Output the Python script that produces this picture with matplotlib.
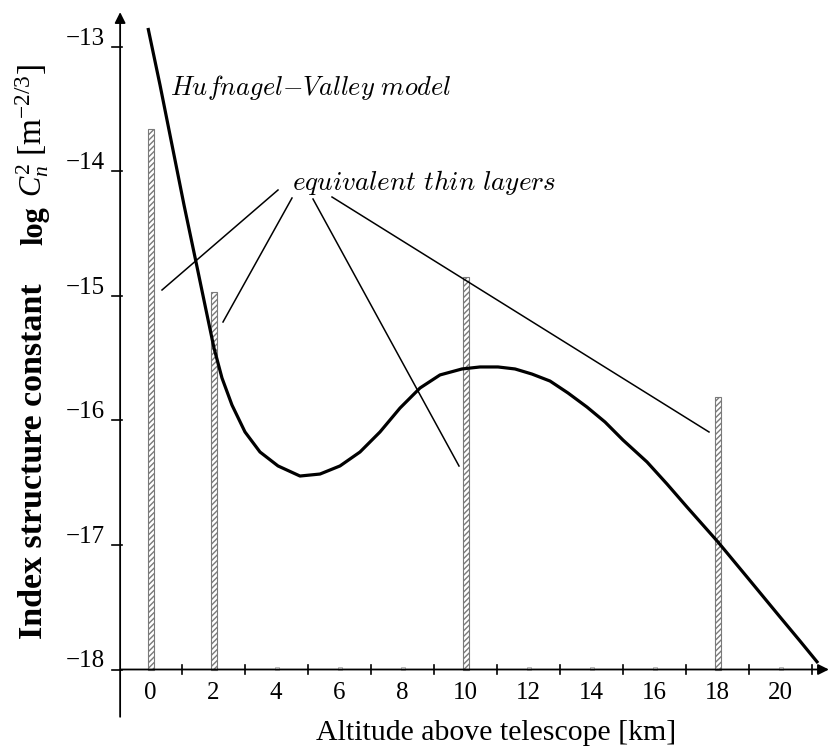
import matplotlib
matplotlib.use("Agg")
import matplotlib.pyplot as plt
import numpy as np

plt.rcParams['font.family'] = ['Liberation Serif', 'DejaVu Serif']
plt.rcParams['mathtext.fontset'] = 'custom'
plt.rcParams['mathtext.rm'] = 'Liberation Serif'
plt.rcParams['mathtext.it'] = 'Liberation Serif:italic'
plt.rcParams['mathtext.bf'] = 'Liberation Serif:bold'

# ---- data ----
hv_alt = [-0.095, 0.286, 0.667, 1.048, 1.429, 1.746, 2.0, 2.254, 2.571, 2.984,
          3.460, 4.032, 4.730, 5.365, 6.0, 6.635, 7.270, 7.905, 8.540, 9.175,
          9.873, 10.444, 11.016, 11.556, 12.095, 12.667, 13.238, 13.841, 14.413,
          14.984, 15.746, 16.381, 17.016, 18.0, 18.921, 19.968, 20.603, 21.175]
hv_logcn2 = [-12.847, -13.305, -13.787, -14.269, -14.727, -15.112, -15.418, -15.659,
             -15.876, -16.092, -16.253, -16.365, -16.446, -16.430, -16.365, -16.253,
             -16.092, -15.900, -15.739, -15.634, -15.586, -15.570, -15.570, -15.586,
             -15.627, -15.683, -15.779, -15.892, -16.012, -16.157, -16.333, -16.510,
             -16.695, -16.976, -17.257, -17.578, -17.771, -17.948]
layer_alt = [0, 2, 10, 18]
layer_logcn2 = [-13.66, -14.97, -14.85, -15.81]
faint_alt = [4, 6, 8, 12, 14, 16, 20]
faint_logcn2 = [-17.98, -17.98, -17.98, -17.98, -17.98, -17.98, -17.98]
xtick_labels = [0, 2, 4, 6, 8, 10, 12, 14, 16, 18, 20]
xtick_marks = [1, 3, 5, 7, 9, 11, 13, 15, 17, 19, 21]
ytick_labels = [-13, -14, -15, -16, -17, -18]
base = -18

# pixel -> data helpers (figure is mapped 1:1 onto the axes)
X0, SX = 151.0, 31.5
Y0, SY = 47.0, 124.5
def px(p):
    return ((p[0] - X0) / SX, -13 - (p[1] - Y0) / SY)

fig = plt.figure(figsize=(8.29, 7.48), dpi=100)
ax = fig.add_axes([0, 0, 1, 1])
ax.set_xlim(-X0 / SX, (829 - X0) / SX)
ax.set_ylim(-13 - (748 - Y0) / SY, -13 + Y0 / SY)
ax.axis('off')

# layers (hatched thin bars)
ax.bar(layer_alt, np.array(layer_logcn2) - base, bottom=base, width=0.19,
       facecolor='white', edgecolor='#7a7a7a', hatch='//////', lw=0.8, zorder=2)
ax.bar(faint_alt, np.array(faint_logcn2) - base, bottom=base, width=0.12,
       facecolor='white', edgecolor='#b0b0b0', lw=0.6, zorder=2)

# model curve
ax.plot(hv_alt, hv_logcn2, color='black', lw=2.3, zorder=4,
        solid_joinstyle='round', solid_capstyle='butt')

# axes
ax.annotate('', xy=(-0.98, -12.72), xytext=(-0.98, -18.38),
            arrowprops=dict(arrowstyle='-|>', lw=1.3, color='black',
                            mutation_scale=16, shrinkA=0, shrinkB=0))
ax.annotate('', xy=(21.52, base), xytext=(-0.98, base),
            arrowprops=dict(arrowstyle='-|>', lw=1.3, color='black',
                            mutation_scale=16, shrinkA=0, shrinkB=0))
for y in ytick_labels:
    ax.plot([-1.25, -0.92], [y, y], color='black', lw=1.2)
    ax.text(-1.45, y + 0.065, '\u2212%d' % abs(y), ha='right', va='center', fontsize=18)
for x in xtick_marks:
    ax.plot([x, x], [base - 0.035, base + 0.035], color='black', lw=1.2)
for x in xtick_labels:
    ax.text(x - 0.03, base - 0.19, str(x), ha='center', va='center', fontsize=18)

# x label
xl = px((496, 733))
ax.text(xl[0], xl[1], 'Altitude above telescope [km]', ha='center', va='center',
        fontsize=21.5)

# y label pieces
ylab = [('Index structure constant', 461, 24.5, dict(fontweight='bold')),
        ('log', 226, 22, dict(fontweight='bold')),
        (r'$C_n^2$', 180, 22, {}),
        (r'[m$^{-2/3}$]', 110, 24, {})]
for s, ycen, fs, kw in ylab:
    p = px((42, ycen))
    ax.text(p[0], p[1], s, rotation=90, rotation_mode='anchor', ha='center',
            va='baseline', fontsize=fs, **kw)

# annotations
p = px((170, 88))
ax.text(p[0], p[1], r'$Hufnagel{-}Valley\ model$',
        ha='left', va='center', fontsize=19, math_fontfamily='cm')
p = px((292, 183))
ax.text(p[0], p[1], r'$equivalent\ thin\ layers$',
        ha='left', va='center', fontsize=19.5, math_fontfamily='cm')

leaders = [((278, 190), (162, 290)), ((292, 198), (223, 322)),
           ((313, 199), (459, 466)), ((332, 197), (709, 432))]
for a, b in leaders:
    pa, pb = px(a), px(b)
    ax.plot([pa[0], pb[0]], [pa[1], pb[1]], color='black', lw=1.1, zorder=3)

fig.savefig('out.png', dpi=100, facecolor='white')
